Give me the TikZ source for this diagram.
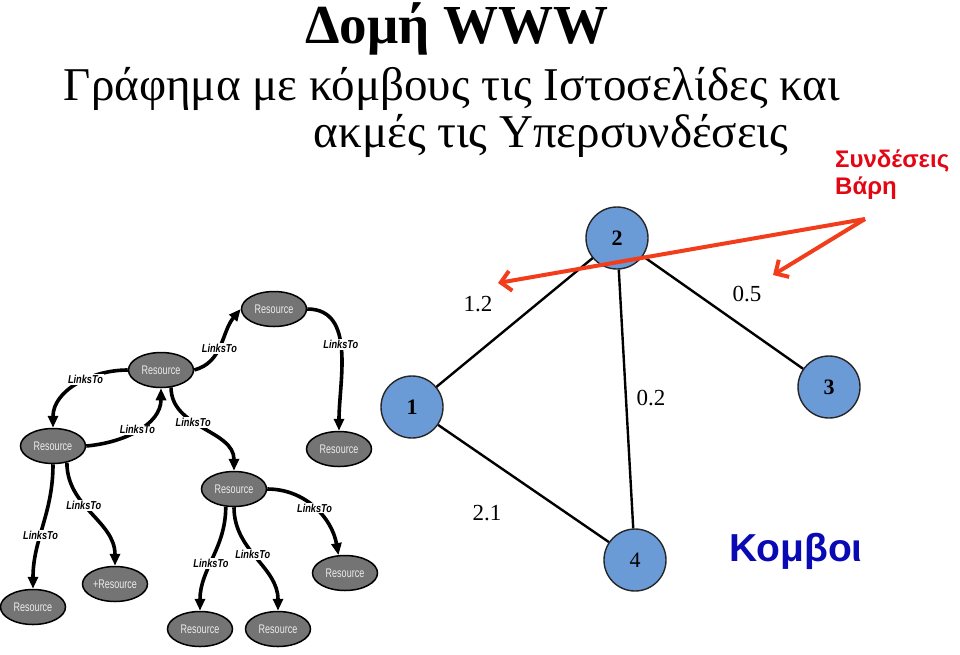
\documentclass[tikz,border=0pt]{standalone}
\usepackage{fontspec}
\setmainfont{Liberation Serif}
\newfontfamily\grsans{Liberation Sans}
\newfontfamily\narrowsans[FakeStretch=0.8]{Liberation Sans}
\newfontfamily\tightsans[FakeStretch=0.72]{Liberation Sans}
\usetikzlibrary{arrows.meta,shapes.geometric}
\definecolor{resgrey}{HTML}{747474}
\definecolor{nodeblue}{HTML}{6B9BD6}
\definecolor{hintred}{HTML}{F23D1C}
\definecolor{labelred}{HTML}{E30613}
\definecolor{kblue}{HTML}{0A0AB4}

\begin{document}
\begin{tikzpicture}[x=1pt, y=-1pt,
  res/.style={ellipse, draw=black, line width=1.5pt, fill=resgrey, minimum width=65pt, minimum height=35pt, inner sep=0pt, text=white!92!black, font=\tightsans\fontsize{12.5}{12.5}\selectfont},
  link/.style={-{Triangle[length=12pt,width=10pt]}, line width=3.6pt, black},
  lbl/.style={fill=white, inner sep=1pt, font=\narrowsans\bfseries\itshape\fontsize{11.5}{11.5}\selectfont},
  site/.style={circle, draw=black!85, line width=1.4pt, fill=nodeblue, minimum size=62pt, inner sep=0pt, font=\fontsize{22}{22}\selectfont},
  edge/.style={line width=2.4pt, black},
  weight/.style={font=\fontsize{23}{23}\selectfont},
  hint/.style={-{Straight Barb[length=10pt,width=20pt]}, line width=4pt, hintred},
]
\useasboundingbox (0,0) rectangle (960,654);

% Title
\node[anchor=base, font=\bfseries\fontsize{55}{55}\selectfont] (title) at (457,43) {Δομή WWW};
\node[anchor=base, font=\fontsize{47}{47}\selectfont] (sub1) at (452,100) {Γράφημα με κόμβους τις Ιστοσελίδες και};
\node[anchor=base, font=\fontsize{47}{47}\selectfont] (sub2) at (551,147) {ακμές τις Υπερσυνδέσεις};

% Resource tree — left
\node[res] (r1) at (274,309) {Resource};
\node[res] (r2) at (161,370) {Resource};
\node[res] (r3) at (53,446) {Resource};
\node[res] (r4) at (339,449) {Resource};
\node[res] (r5) at (234,489) {Resource};
\node[res] (r6) at (33,607) {Resource};
\node[res] (r7) at (115,584) {+Resource};
\node[res] (r8) at (200,629) {Resource};
\node[res] (r9) at (278,629) {Resource};
\node[res] (r10) at (345,573) {Resource};

\draw[link] (r2.east) to[out=15, in=230] node[lbl, pos=.45] {LinksTo} (r1.west);
\draw[link] (r2.west) to[out=180, in=90] node[lbl, pos=.4] {LinksTo} (r3.north);
\draw[link] (r3.east) to[out=5, in=270] node[lbl, pos=.5] {LinksTo} (r2.south);
\draw[link] (r2.-60) to[out=270, in=90] node[lbl, pos=.4] {LinksTo} (r5.north);
\draw[link] (r1.east) to[out=0, in=90] node[lbl, pos=.45] {LinksTo} (r4.north);
\draw[link] (r3.south) to[out=270, in=90] node[lbl, pos=.58] {LinksTo} (r6.north);
\draw[link] (r3.-50) to[out=270, in=90] node[lbl, pos=.4] {LinksTo} (r7.north);
\draw[link] (r5.-115) to[out=270, in=90] node[lbl, pos=.55] {LinksTo} (r8.north);
\draw[link] (r5.south) to[out=270, in=90] node[lbl, pos=.45] {LinksTo} (r9.north);
\draw[link] (r5.east) to[out=0, in=100] node[lbl, pos=.5] {LinksTo} (r10.110);

% Weighted graph — right
\node[site] (n2) at (617,238) {\textbf{2}};
\node[site] (n1) at (412,407) {\textbf{1}};
\node[site] (n3) at (829,387) {\textbf{3}};
\node[site] (n4) at (635,560) {4};

\draw[edge] (n2) -- (n1);
\draw[edge] (n1) -- (n4);
\draw[edge] (n2) -- (n4);
\draw[edge] (n2) -- (n3);

\node[weight] (w12) at (478,304) {1.2};
\node[weight] (w24) at (651,398) {0.2};
\node[weight] (w14) at (487,513) {2.1};
\node[weight] (w23) at (747,294) {0.5};

% Hints
\node[anchor=north west, align=left, inner sep=0pt, text=labelred, font=\grsans\bfseries\fontsize{24}{27}\selectfont] (hint) at (835,150) {Συνδέσεις\\Βάρη};
\coordinate (src) at (865,219);
\coordinate (tipa) at (498,283);
\coordinate (tipb) at (773,275);
\draw[hint] (src) -- (tipa);
\draw[hint] (src) -- (tipb);

\node[text=kblue, font=\grsans\bfseries\fontsize{39}{39}\selectfont] (nodes) at (796,551) {Κομβοι};

\end{tikzpicture}
\end{document}
